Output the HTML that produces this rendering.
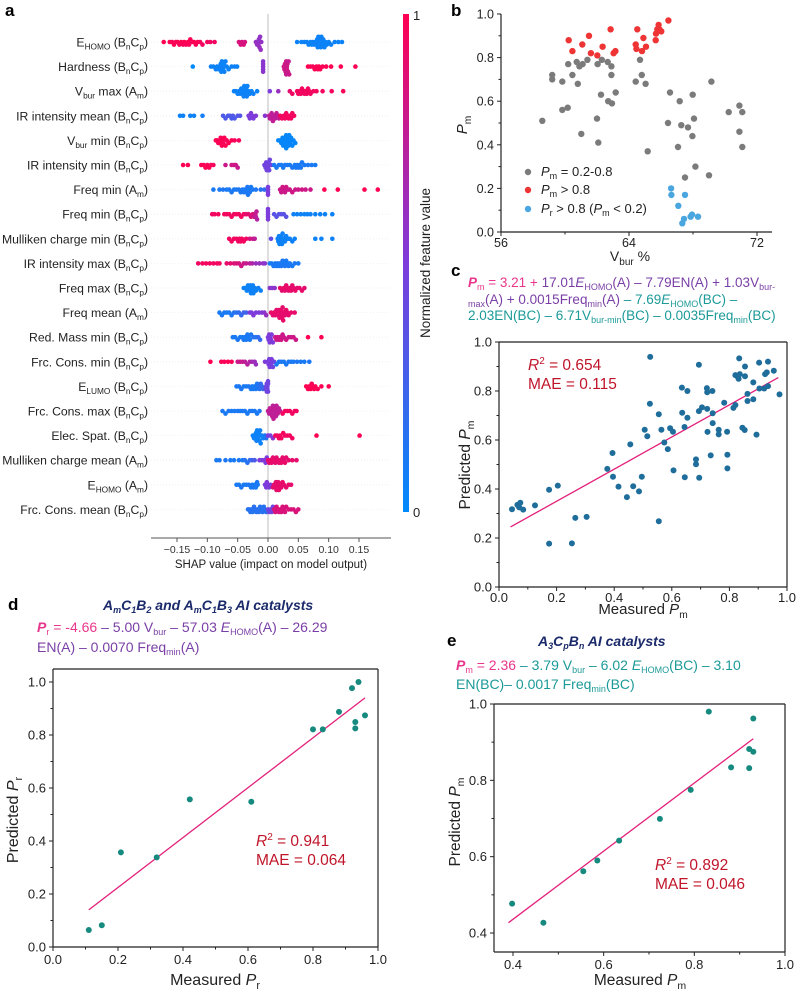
<!DOCTYPE html>
<html><head><meta charset="utf-8">
<style>
body{margin:0;background:#fff;}
#wrap{position:relative;width:799px;height:996px;overflow:hidden;font-family:"Liberation Sans",Arial,sans-serif;}
svg{position:absolute;left:0;top:0;}
.eq{position:absolute;white-space:nowrap;font-size:13.5px;line-height:16.5px;}
.eq sub{font-size:9px;line-height:0;vertical-align:-3px;}
.pk{color:#e8368c}.pu{color:#7a3fa6}.tl{color:#1c9a98}
.ttl{position:absolute;white-space:nowrap;font-weight:bold;font-style:italic;color:#1b2a6b;font-size:14px;}
.ttl sub{font-size:9px;line-height:0;vertical-align:-3px;}
</style></head>
<body>
<div id="wrap">
<svg id="chart" width="799" height="996" viewBox="0 0 799 996">
<defs><linearGradient id="cbar" x1="0" y1="0" x2="0" y2="1"><stop offset="0" stop-color="#ff0052"/><stop offset="0.5" stop-color="#7d3cdc"/><stop offset="1" stop-color="#008afa"/></linearGradient></defs>
</svg>
<div class="eq" style="left:468px;top:275px;"><span class="pk"><b><i>P</i></b><sub>m</sub> = 3.21 + </span><span class="pu">17.01<i>E</i><sub>HOMO</sub>(A) – 7.79EN(A) + 1.03V<sub>bur-</sub></span><br><span class="pu"><sub>max</sub>(A) + 0.0015Freq<sub>min</sub>(A)</span><span class="tl"> – 7.69<i>E</i><sub>HOMO</sub>(BC) –</span><br><span class="tl">2.03EN(BC) – 6.71V<sub>bur-min</sub>(BC) – 0.0035Freq<sub>min</sub>(BC)</span></div>
<div class="ttl" style="left:103px;top:597px;">A<sub>m</sub>C<sub>1</sub>B<sub>2</sub> and A<sub>m</sub>C<sub>1</sub>B<sub>3</sub> AI catalysts</div>
<div class="eq" style="left:37px;top:617px;font-size:14px;line-height:20px;"><span class="pk"><b><i>P</i></b><sub>r</sub> = -4.66</span><span class="pu"> – 5.00 V<sub>bur</sub> – 57.03 <i>E</i><sub>HOMO</sub>(A) – 26.29</span><br><span class="pu">EN(A) – 0.0070 Freq<sub>min</sub>(A)</span></div>
<div class="ttl" style="left:538px;top:633px;">A<sub>3</sub>C<sub>p</sub>B<sub>n</sub> AI catalysts</div>
<div class="eq" style="left:456px;top:656px;font-size:14px;line-height:19px;"><span class="pk"><b><i>P</i></b><sub>m</sub> = 2.36</span><span class="tl"> – 3.79 V<sub>bur</sub> – 6.02 <i>E</i><sub>HOMO</sub>(BC) – 3.10</span><br><span class="tl">EN(BC)– 0.0017 Freq<sub>min</sub>(BC)</span></div>
</div>
<script>
// ---------- Panel a data ----------
const featureNames=["E|HOMO| (B|n|C|p|)","Hardness (B|n|C|p|)","V|bur| max (A|m|)","IR intensity mean (B|n|C|p|)","V|bur| min (B|n|C|p|)","IR intensity min (B|n|C|p|)","Freq min (A|m|)","Freq min (B|n|C|p|)","Mulliken charge min (B|n|C|p|)","IR intensity max (B|n|C|p|)","Freq max (B|n|C|p|)","Freq mean (A|m|)","Red. Mass min (B|n|C|p|)","Frc. Cons. min (B|n|C|p|)","E|LUMO| (B|n|C|p|)","Frc. Cons. max (B|n|C|p|)","Elec. Spat. (B|n|C|p|)","Mulliken charge mean (A|m|)","E|HOMO| (A|m|)","Frc. Cons. mean (B|n|C|p|)"];
// shap value (x1000) : feature value (x100)
const shapRows=[
"-172:100 -162:100 -158:98 -155:100 -152:98 -149:100 -146:97 -143:100 -140:98 -138:100 -135:97 -132:100 -130:98 -128:100 -125:96 -122:100 -119:97 -116:100 -112:96 -108:95 -100:95 -95:94 -88:94 -48:85 -45:85 -43:84 -40:85 -38:83 -20:60 -18:60 -17:58 -16:60 -15:58 -14:60 -13:58 -12:60 -11:58 48:5 55:4 60:5 64:6 67:5 70:4 72:5 74:5 76:4 78:6 80:5 81:4 82:5 83:6 84:5 85:4 86:5 87:6 88:5 89:4 90:5 91:6 93:5 95:4 97:5 100:5 104:6 110:5 116:4 122:5",
"-124:0 -94:5 -90:5 -86:6 -84:5 -82:4 -80:5 -79:6 -78:5 -77:4 -76:5 -75:6 -74:5 -73:4 -72:5 -70:6 -68:5 -65:4 -60:5 -55:6 -51:5 -8:55 -8:55 -8:55 -8:55 -8:55 26:80 27:80 28:82 29:80 30:80 30:78 31:80 31:82 32:80 33:80 34:78 35:80 66:100 70:100 74:98 77:100 80:100 82:98 84:100 86:100 90:98 96:100 104:100 120:100 144:100",
"-56:5 -53:5 -50:4 -48:5 -46:6 -44:5 -43:4 -42:5 -41:5 -40:6 -39:5 -38:4 -37:5 -36:5 -35:6 -34:5 -32:4 -30:5 -27:5 -24:6 -18:5 3:50 17:60 36:90 40:95 48:95 50:96 52:95 54:95 56:96 58:95 60:95 62:96 64:95 66:95 68:96 70:95 75:95 80:96 90:95 105:96 124:98",
"-145:5 -140:5 -128:6 -122:5 -108:8 -74:30 -70:30 -66:32 -63:30 -60:30 -58:32 -55:30 -50:32 -46:34 -32:50 -30:50 -28:52 -26:50 -24:50 -20:52 -5:55 2:75 3:75 4:76 5:75 6:75 8:76 10:75 12:75 14:76 16:75 18:76 20:95 23:95 26:96 28:95 30:95 32:96 34:95 36:95 38:96 40:95 43:95",
"-86:100 -84:100 -82:98 -80:100 -79:100 -78:98 -76:100 -75:100 -74:98 -72:100 -70:100 -68:98 -65:100 -60:100 -55:98 -48:96 17:2 20:2 22:3 24:2 25:2 26:3 27:2 28:2 29:3 30:2 30:2 31:3 32:2 33:2 34:3 35:2 36:2 37:3 38:2 40:2 42:3 45:2",
"-140:100 -132:100 -110:100 -106:98 -103:100 -100:98 -97:100 -94:98 -90:96 -70:80 -60:80 -56:82 -53:80 -50:78 -6:45 -4:45 -3:46 -2:45 -1:45 0:46 1:45 2:45 3:44 5:45 10:10 14:10 18:12 22:10 25:10 28:12 32:10 36:10 40:12 44:10 46:10 48:12 50:10 52:10 54:12 56:10 60:10 66:12 72:10 78:10",
"-90:10 -80:10 -74:12 -68:10 -64:10 -60:12 -56:10 -52:10 -48:12 -45:10 -42:10 -40:12 -38:10 -36:10 -34:12 -33:10 -32:10 -30:12 -28:10 -25:10 -20:12 -12:15 -6:20 0:50 0:50 0:50 0:50 20:80 22:80 24:82 26:80 28:80 30:82 33:80 36:80 40:82 45:80 50:80 56:82 62:80 70:80 93:100 115:100 159:100 181:100",
"-92:95 -88:95 -82:96 -72:95 -68:95 -64:96 -60:95 -56:95 -52:96 -48:95 -44:95 -40:96 -36:90 -32:90 -28:85 -25:85 -23:80 -21:80 -20:75 -19:75 -18:70 0:50 0:50 0:50 0:50 0:50 10:35 14:35 18:36 22:35 26:35 30:36 42:5 48:5 54:6 60:5 65:5 70:6 78:5 86:5 94:6 106:5",
"-64:95 -60:95 -56:96 -52:95 -49:95 -47:96 -45:95 -43:95 -40:96 -36:95 -30:85 -25:80 -22:75 5:40 16:5 17:5 18:6 19:5 20:5 21:6 22:5 23:5 24:6 26:5 28:5 30:6 33:5 36:5 40:6 44:5 78:5 88:5 106:6",
"-115:95 -108:95 -102:96 -96:95 -90:95 -84:96 -80:95 -68:90 -62:90 -56:88 -52:85 -48:85 -44:82 -40:80 -36:78 -30:75 -26:70 -20:60 -14:60 -8:58 -5:55 3:10 6:10 9:12 12:10 14:10 16:12 18:10 20:10 22:12 24:10 26:10 28:12 30:10 32:10 34:12 36:10 40:10 44:12 50:10",
"-40:5 -37:5 -35:6 -33:5 -31:5 -30:6 -29:5 -28:5 -27:6 -26:5 -25:5 -24:6 -22:5 -20:5 -16:6 -12:5 3:55 7:55 11:56 20:90 23:90 26:92 28:90 30:90 32:92 34:90 36:90 38:92 40:90 42:90 45:92 48:90 52:90 56:92 60:90",
"-80:10 -76:10 -72:12 -68:10 -64:10 -60:12 -56:15 -52:15 -48:20 -44:20 -40:25 -36:25 -30:50 -27:50 -24:52 -20:50 -15:50 -10:52 -6:55 -3:60 5:90 8:90 10:92 12:90 14:90 16:92 17:90 18:90 19:92 20:90 21:90 22:92 23:90 24:90 25:92 26:90 28:90 30:92 32:90 34:90 38:92 44:90",
"-58:10 -54:10 -50:12 -46:10 -42:10 -40:12 -38:10 -36:10 -34:12 -32:10 -30:10 -28:12 -24:15 -20:15 -16:20 -13:20 0:50 1:50 2:52 3:50 4:50 5:52 6:50 8:50 12:80 14:80 16:82 18:80 20:80 22:82 24:80 26:80 30:82 34:80 38:80 42:82 46:80 66:100 88:100",
"-95:100 -77:100 -72:98 -66:100 -60:98 -50:80 -46:80 -42:78 -38:75 -34:72 -30:70 -26:65 -22:62 -20:60 -5:50 0:50 1:50 2:48 3:50 4:50 5:48 6:50 8:45 10:45 14:10 18:10 22:12 26:10 30:10 34:12 38:10 42:10 48:12 54:10 60:10 68:12",
"-52:10 -48:10 -44:12 -40:10 -36:10 -32:12 -28:10 -26:10 -24:12 -22:10 -20:10 -18:12 -16:15 -14:15 -12:20 -10:20 -8:25 -3:45 -3:45 -2:45 -2:45 -1:45 -1:45 0:45 0:45 0:45 63:100 66:100 68:98 70:100 72:100 74:98 76:100 78:100 82:98 88:100 100:100",
"-75:10 -70:10 -65:12 -60:10 -55:10 -50:12 -46:10 -42:10 -38:12 -34:10 -30:10 -26:12 -22:10 -18:10 -14:12 0:75 2:75 3:76 4:75 5:75 6:76 7:75 8:75 9:76 10:75 11:75 12:76 13:75 14:75 15:76 16:75 18:75 20:76 24:95 28:95 32:96 36:95 40:95 44:96 47:95",
"-25:5 -23:5 -22:6 -21:5 -20:5 -19:6 -18:5 -17:5 -16:6 -15:5 -14:5 -13:6 -12:5 -10:5 -8:6 -5:10 -3:15 0:50 4:50 8:55 12:95 15:95 18:96 20:95 22:95 25:96 28:95 32:95 36:96 40:95 80:100 151:100",
"-85:10 -80:10 -70:12 -62:10 -56:10 -48:12 -42:10 -38:15 -34:15 -30:20 -26:25 -22:30 -14:50 -10:50 -6:52 -4:50 -2:50 0:90 2:90 4:92 6:90 8:90 10:92 12:90 14:90 16:92 18:90 20:90 22:92 24:90 26:90 28:92 30:90 34:90 40:92 47:90",
"-52:10 -48:10 -44:12 -40:10 -36:10 -32:12 -28:10 -26:10 -24:12 -22:10 -20:10 -18:12 -17:10 -5:50 -3:50 -2:52 0:50 2:50 4:52 8:90 10:90 12:92 13:90 14:90 15:92 16:90 17:90 18:92 20:90 22:90 24:92 26:90 30:90 34:92 38:90",
"-33:15 -31:15 -29:16 -27:15 -25:15 -23:16 -21:15 -19:15 -17:16 -15:15 -13:15 -11:16 -9:15 -7:15 -5:16 -3:15 0:45 2:45 4:46 6:45 8:45 10:85 12:85 14:86 16:85 18:85 20:86 22:85 24:85 26:86 28:85 30:85 34:86 38:85 42:85 46:86 50:85"
];
const shapTicks=[-0.15,-0.10,-0.05,0.00,0.05,0.10,0.15];

// ---------- Panel b data ----------
const bGrayX=[58.58,59.2,59.2,59.83,59.83,60.17,60.2,60.46,60.73,60.8,60.9,61.02,61.1,61.4,62.0,62.04,62.08,62.25,62.3,62.67,62.7,62.9,62.9,62.94,63.17,64.42,64.69,64.8,65.04,65.17,66.44,66.56,67.06,67.17,67.27,67.5,67.69,67.96,67.98,68.06,68.15,69.0,69.15,70.23,70.9,70.9,71.08,71.08];
const bGrayY=[0.51,0.72,0.70,0.69,0.56,0.57,0.77,0.72,0.78,0.68,0.76,0.45,0.77,0.79,0.52,0.77,0.41,0.63,0.79,0.78,0.60,0.76,0.72,0.59,0.64,0.69,0.79,0.72,0.68,0.37,0.50,0.64,0.39,0.60,0.49,0.25,0.48,0.44,0.63,0.52,0.30,0.26,0.69,0.55,0.58,0.46,0.55,0.39];
const bRedX=[60.23,60.46,61.08,61.5,61.62,62.02,62.35,62.85,63.04,63.15,64.42,64.46,64.52,64.81,64.9,65.06,65.67,65.69,65.77,65.85,65.9,66.02,66.46];
const bRedY=[0.88,0.83,0.86,0.90,0.82,0.81,0.85,0.93,0.82,0.83,0.86,0.84,0.93,0.83,0.89,0.85,0.88,0.91,0.93,0.95,0.93,0.92,0.97];
const bBlueX=[66.63,66.65,67.5,67.08,67.44,67.33,67.85,67.94,68.31];
const bBlueY=[0.20,0.17,0.17,0.12,0.06,0.04,0.07,0.08,0.07];
const bXTicks=[56,64,72];
const bYTicks=[0.0,0.2,0.4,0.6,0.8,1.0];

// ---------- Panel c data ----------
const cMeasured=[.045,.064,.074,.07,.084,.125,.174,.204,.174,.253,.265,.304,.376,.394,.396,.415,.444,.456,.466,.486,.496,.506,.515,.524,.525,.555,.555,.564,.574,.586,.594,.604,.606,.635,.636,.644,.645,.654,.654,.684,.684,.694,.694,.695,.705,.722,.723,.723,.724,.735,.741,.742,.742,.763,.763,.782,.792,.793,.793,.814,.821,.821,.827,.832,.834,.836,.845,.853,.854,.854,.863,.863,.883,.883,.894,.903,.904,.921,.924,.93,.934,.934,.954,.974];
const cPredicted=[.317,.335,.344,.325,.316,.333,.397,.414,.177,.178,.282,.286,.482,.547,.45,.41,.367,.582,.411,.39,.45,.642,.615,.748,.939,.705,.268,.642,.59,.563,.648,.634,.476,.814,.711,.653,.448,.8,.691,.521,.501,.907,.718,.446,.733,.812,.795,.727,.633,.537,.8,.709,.669,.642,.623,.752,.634,.54,.484,.731,.743,.865,.861,.85,.933,.869,.65,.641,.9,.86,.788,.759,.835,.766,.622,.916,.81,.81,.869,.876,.82,.92,.883,.786];
const cFit=[[0.04,0.245],[0.97,0.855]];
const unitTicks=[0.0,0.2,0.4,0.6,0.8,1.0];

// ---------- Panel d data ----------
const dMeasured=[0.11,0.15,0.209,0.319,0.421,0.61,0.80,0.83,0.88,0.92,0.94,0.93,0.93,0.96];
const dPredicted=[0.064,0.082,0.357,0.338,0.557,0.548,0.821,0.821,0.887,0.977,1.0,0.849,0.825,0.874];
const dFit=[[0.11,0.14],[0.96,0.94]];

// ---------- Panel e data ----------
const eMeasured=[0.398,0.467,0.555,0.586,0.634,0.724,0.792,0.832,0.881,0.921,0.921,0.93,0.93];
const ePredicted=[0.477,0.427,0.562,0.59,0.642,0.699,0.775,0.98,0.834,0.882,0.832,0.875,0.962];
const eFit=[[0.39,0.427],[0.93,0.909]];
const eXTicks=[0.4,0.6,0.8,1.0];
const eYTicks=[0.4,0.6,0.8,1.0];

const NS='http://www.w3.org/2000/svg';
const svg=document.getElementById('chart');
function mk(tag,parent){const e=document.createElementNS(NS,tag);(parent||svg).appendChild(e);return e;}
function set(e,o){for(const k in o)e.setAttribute(k,o[k]);return e;}
function lin(d0,d1,r0,r1){return v=>r0+(v-d0)*(r1-r0)/(d1-d0);}
function txt(x,y,s,size,anchor,parent,fill){const t=mk('text',parent);set(t,{x:x,y:y,'font-size':size,'text-anchor':anchor||'start',fill:fill||'#222','font-family':'Liberation Sans, Arial, sans-serif'});t.textContent=s;return t;}
function rich(x,y,s,size,anchor,parent){const t=mk('text',parent);set(t,{x:x,y:y,'font-size':size,'text-anchor':anchor,fill:'#222','font-family':'Liberation Sans, Arial, sans-serif'});
 const parts=s.split('|');parts.forEach((p,i)=>{const ts=mk('tspan',t);if(i%2===1){set(ts,{'font-size':size*0.68,dy:3});}else if(i>0){set(ts,{dy:-3});}ts.textContent=p;});return t;}
function line(x1,y1,x2,y2,stroke,w,parent){const l=mk('line',parent);set(l,{x1:x1,y1:y1,x2:x2,y2:y2,stroke:stroke,'stroke-width':w});return l;}
function lerp(a,b,t){return Math.round(a+(b-a)*t);}
function shapColor(v){const c0=[0,138,250],c1=[125,60,220],c2=[255,0,82];let a,b,t;if(v<0.5){a=c0;b=c1;t=v/0.5;}else{a=c1;b=c2;t=(v-0.5)/0.5;}return 'rgb('+lerp(a[0],b[0],t)+','+lerp(a[1],b[1],t)+','+lerp(a[2],b[2],t)+')';}

[['a',5,16],['b',451,16],['c',451,276],['d',8,610],['e',447,646]].forEach(p=>{
 const t=txt(p[1],p[2],p[0],17,'start');t.setAttribute('font-weight','bold');t.setAttribute('fill','#000');
 
 
});

// ---------- Panel a ----------
(function(){
 const g=mk('g');
 
 
 const sx=lin(0,0.15,268,359);
 const rowY=i=>42+i*24.6;
 const axisY=538;
 featureNames.forEach((n,i)=>{
  const gl=line(151,rowY(i),391,rowY(i),'#eeeeee',0.8,g);gl.setAttribute('stroke-dasharray','1,2');
  
  
  const lb=rich(148,rowY(i)+4.5,n,12.2,'end',g);
  
  
 });
 const zl=line(268,14,268,axisY,'#c8c8c8',1.2,g);
 
 
 shapRows.forEach((row,i)=>{
  const pts=row.trim().split(/\s+/).map(s=>{const q=s.split(':');return [+q[0]/1000,+q[1]/100];});
  const bins={};
  pts.forEach(p=>{
   const px=sx(p[0]);const b=Math.round(px/3.2);const k=bins[b]||0;bins[b]=k+1;
   let off=k===0?0:(k%2===1?1:-1)*Math.ceil(k/2)*2.6;if(Math.abs(off)>10)off=Math.sign(off)*(10-(k%3));
   const c=mk('circle',g);set(c,{cx:px.toFixed(1),cy:(rowY(i)+off).toFixed(1),r:2.3,fill:shapColor(p[1])});
   
   
  });
 });
 const ax=line(151,axisY,391,axisY,'#555',1,g);
 
 
 shapTicks.forEach(v=>{line(sx(v),axisY,sx(v),axisY+4,'#555',1,g);
  const t=txt(sx(v),axisY+15,(v<0?'\u2212':'')+Math.abs(v).toFixed(2),10.5,'middle',g,'#333');
  
  });
 const xt=txt(271,568,'SHAP value (impact on model output)',11.5,'middle',g,'#222');
 
 
 const cb=mk('rect',g);set(cb,{x:403,y:14,width:6,height:498,fill:'url(#cbar)'});
 
 
 const c1=txt(413,20,'1',13,'start',g);
 const c0=txt(413,517,'0',13,'start',g);
 const ct=txt(0,0,'Normalized feature value',13.5,'middle',g);ct.setAttribute('transform','translate(430,263) rotate(-90)');
 
 
})();

function axes(g,o){
 const fs=o.size||13;const off=o.tickOff||17;
 const la=line(o.L,o.B,o.L,o.T,'#222',1.2,g);
 const ba=line(o.L,o.B,o.R,o.B,'#222',1.2,g);
 if(o.box){line(o.L,o.T,o.R,o.T,'#222',1.2,g);line(o.R,o.B,o.R,o.T,'#222',1.2,g);}
 o.xt.forEach(v=>{const x=o.sx(v);line(x,o.B,x,o.B+4,'#222',1,g);
  const t=txt(x,o.B+off,o.fmtX(v),fs,'middle',g);});
 o.yt.forEach(v=>{const y=o.sy(v);line(o.L,y,o.L-4,y,'#222',1,g);
  const t=txt(o.L-7,y+4.5,o.fmtY(v),fs,'end',g);});
 (o.mx||[]).forEach(v=>line(o.sx(v),o.B,o.sx(v),o.B+2.5,'#222',1,g));
 (o.my||[]).forEach(v=>line(o.L,o.sy(v),o.L-2.5,o.sy(v),'#222',1,g));
}
function italicTitle(g,x,y,pre,sub,rot,size,post){
 const t=mk('text',g);set(t,{x:0,y:0,'font-size':size,'text-anchor':'middle',fill:'#222','font-family':'Liberation Sans, Arial, sans-serif',transform:'translate('+x+','+y+')'+(rot?' rotate(-90)':'')});
 const a=mk('tspan',t);a.textContent=pre;
 const b=mk('tspan',t);b.setAttribute('font-style','italic');b.textContent='P';
 const c=mk('tspan',t);set(c,{'font-size':size*0.68,dy:4});c.textContent=sub;
 if(post){const d=mk('tspan',t);set(d,{dy:-4});d.textContent=post;}
 return t;
}
function dots(g,xs,ys,sx,sy,fill,r,name){xs.forEach((v,i)=>{const c=mk('circle',g);set(c,{cx:sx(v).toFixed(1),cy:sy(ys[i]).toFixed(1),r:r,fill:fill});
 
 });}
function fit(g,f,sx,sy){const l=line(sx(f[0][0]),sy(f[0][1]),sx(f[1][0]),sy(f[1][1]),'#e3207a',1.3,g);
 
 }
function stats(g,x,y,r2,mae){const t=mk('text',g);set(t,{x:x,y:y,'font-size':15.5,fill:'#c0152a','font-family':'Liberation Sans, Arial, sans-serif'});
 const a=mk('tspan',t);a.setAttribute('font-style','italic');a.textContent='R';
 const b=mk('tspan',t);set(b,{'font-size':10,dy:-6});b.textContent='2';
 const c=mk('tspan',t);set(c,{dy:6});c.textContent=' = '+r2;
 
 const m=txt(x,y+19,'MAE = '+mae,15.5,'start',g,'#c0152a');}
const f1=v=>v.toFixed(1);

// ---------- Panel b ----------
(function(){
 const g=mk('g');
 const sx=lin(56,72,501,757),sy=lin(0,1,232,14);
 axes(g,{L:501,R:772,B:232,T:14,sx:sx,sy:sy,xt:bXTicks,yt:bYTicks,mx:[60,68],my:[0.1,0.3,0.5,0.7,0.9],fmtX:v=>String(v),fmtY:f1,size:12.5,tickOff:15});
 dots(g,bGrayX,bGrayY,sx,sy,'#7b7b7b',3.2,'gray-point');
 dots(g,bRedX,bRedY,sx,sy,'#ee3434',3.2,'red-point');
 dots(g,bBlueX,bBlueY,sx,sy,'#4aa6df',3.2,'blue-point');
 const yt=italicTitle(g,467,125,'','m',true,15);
 const xt=mk('text',g);set(xt,{x:630,y:261,'font-size':14,'text-anchor':'middle',fill:'#222','font-family':'Liberation Sans, Arial, sans-serif'});
 const a=mk('tspan',xt);a.textContent='V';const b=mk('tspan',xt);set(b,{'font-size':10,dy:4});b.textContent='bur';const c=mk('tspan',xt);set(c,{dy:-4});c.textContent=' %';
 
 [['#7b7b7b','','m',' = 0.2-0.8',176],['#ee3434','','m',' > 0.8',194],['#4aa6df','','r',' > 0.8 (',213]].forEach((L,i)=>{
  const c=mk('circle',g);set(c,{cx:528,cy:L[4]-4,r:3.2,fill:L[0]});
  
  const t=mk('text',g);set(t,{x:541,y:L[4],'font-size':13,fill:'#222','font-family':'Liberation Sans, Arial, sans-serif'});
  const p=mk('tspan',t);p.setAttribute('font-style','italic');p.textContent='P';
  const s=mk('tspan',t);set(s,{'font-size':9,dy:3});s.textContent=L[2];
  const r=mk('tspan',t);set(r,{dy:-3});r.textContent=L[3];
  if(i===2){const p2=mk('tspan',t);p2.setAttribute('font-style','italic');p2.textContent='P';const s2=mk('tspan',t);set(s2,{'font-size':9,dy:3});s2.textContent='m';const r2=mk('tspan',t);set(r2,{dy:-3});r2.textContent=' < 0.2)';}
  
 });
})();

// ---------- Panel c ----------
(function(){
 const g=mk('g');
 const sx=lin(0,1,499,787),sy=lin(0,1,587,342);
 axes(g,{L:499,R:787,B:587,T:342,box:true,sx:sx,sy:sy,xt:unitTicks,yt:unitTicks,mx:[.1,.3,.5,.7,.9],my:[.1,.3,.5,.7,.9],fmtX:f1,fmtY:f1,size:13,tickOff:15});
 fit(g,cFit,sx,sy);
 dots(g,cMeasured,cPredicted,sx,sy,'#1f6d9b',3,'data-point');
 stats(g,528,370,'0.654','0.115');
 const yt=italicTitle(g,470,465,'Predicted ','m',true,15.5);
 const xt=italicTitle(g,643,614,'Measured ','m',false,15);
})();

// ---------- Panel d ----------
(function(){
 const g=mk('g');
 const sx=lin(0,1,53,378),sy=lin(0,1,947,682);
 axes(g,{L:53,R:378,B:947,T:669,box:true,sx:sx,sy:sy,xt:unitTicks,yt:unitTicks,mx:[.1,.3,.5,.7,.9],my:[.1,.3,.5,.7,.9],fmtX:f1,fmtY:f1,size:13});
 fit(g,dFit,sx,sy);
 dots(g,dMeasured,dPredicted,sx,sy,'#178a80',3,'data-point');
 stats(g,256,846,'0.941','0.064');
 const yt=italicTitle(g,18,820,'Predicted ','r',true,16);
 const xt=italicTitle(g,215,985,'Measured ','r',false,16);
})();

// ---------- Panel e ----------
(function(){
 const g=mk('g');
 const sx=lin(0.4,1,513,785),sy=lin(0.4,1,933,704);
 axes(g,{L:494,R:785,B:952,T:704,box:true,sx:sx,sy:sy,xt:eXTicks,yt:eYTicks,mx:[.5,.7,.9],my:[.5,.7,.9],fmtX:f1,fmtY:f1,size:13});
 fit(g,eFit,sx,sy);
 dots(g,eMeasured,ePredicted,sx,sy,'#178a80',3,'data-point');
 stats(g,655,870,'0.892','0.046');
 const yt=italicTitle(g,460,822,'Predicted ','m',true,15.5);
 const xt=italicTitle(g,640,985,'Measured ','m',false,15.5);
})();
</script>
</body></html>
